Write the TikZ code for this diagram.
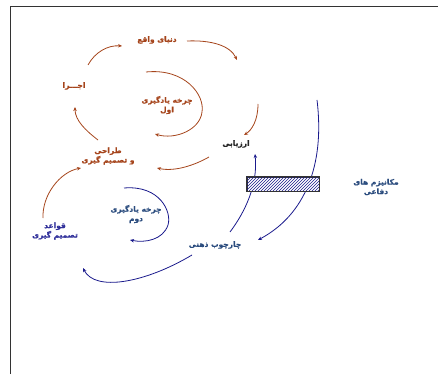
\documentclass[tikz,border=0pt]{standalone}
\usepackage{fontspec}
\newfontfamily\arabicfont[Script=Arabic,BoldFont={DejaVu Sans Bold},BoldFeatures={FakeBold=0.6}]{DejaVu Sans}
\TeXXeTstate=1
\usetikzlibrary{arrows.meta,patterns}
\definecolor{brn}{HTML}{A5441B}
\definecolor{nvy}{HTML}{1A1A8C}
\definecolor{tealb}{HTML}{2B4C7E}
\definecolor{purb}{HTML}{30309A}
\begin{document}
\begin{tikzpicture}[x=1pt,y=-1pt,
  lbl/.style={font=\arabicfont\bfseries\fontsize{7.5}{9.5}\selectfont,align=center,inner sep=0pt},
  barr/.style={brn,line width=0.8pt,-{Stealth[length=4pt,width=3.5pt]}},
  narr/.style={nvy,line width=0.8pt,-{Stealth[length=4pt,width=3.5pt]}}]
\useasboundingbox (0,0) rectangle (438,374);
\draw[line width=0.8pt,black!80] (10,374) -- (10,6) -- (438,6);
% text nodes
\node[lbl,text=brn] (world) at (157,40) {\beginR دنیای واقع\endR};
\node[lbl,text=brn] (ejra) at (74,86) {\beginR اجـــرا\endR};
\node[lbl,text=brn] (c1) at (167,105) {\beginR چرخه یادگیری\endR\\\beginR اول\endR};
\node[lbl,text=black!85] (eval) at (236,144) {\beginR ارزیابی\endR};
\node[lbl,text=brn] (design) at (108,156) {\beginR طراحی\endR\\\beginR و تصمیم گیری\endR};
\node[lbl,text=purb] (rules) at (55,231) {\beginR قواعد\endR\\\beginR تصمیم گیری\endR};
\node[lbl,text=tealb] (c2) at (136,214) {\beginR چرخه یادگیری\endR\\\beginR دوم\endR};
\node[lbl,text=tealb] (frame) at (215,245) {\beginR چارچوب ذهنی\endR};
\node[lbl,text=tealb] (defm) at (376,187) {\beginR مکانیزم های\endR\\\beginR دفاعی\endR};
% coordinates
\coordinate (p1s) at (88,65); \coordinate (p1e) at (122,46);
\coordinate (p2s) at (187,41); \coordinate (p2e) at (237,60);
\coordinate (p3s) at (98,140); \coordinate (p3e) at (75,107);
\coordinate (p4s) at (146,72); \coordinate (p4m) at (202,112); \coordinate (p4e) at (155,134);
\coordinate (p5s) at (258,104); \coordinate (p5e) at (244,135);
\coordinate (p6s) at (209,157); \coordinate (p6e) at (157,168);
\coordinate (p7s) at (43,218); \coordinate (p7e) at (81,168);
\coordinate (p8s) at (124,188); \coordinate (p8m) at (168,225); \coordinate (p8e) at (130,240);
\coordinate (p9s) at (230,232); \coordinate (p9e) at (255,154);
\coordinate (p10s) at (317,100); \coordinate (p10e) at (258,240);
\coordinate (p11s) at (192,255); \coordinate (p11e) at (83,268);
% brown arrows
\draw[barr] (p1s) .. controls (95,52) and (108,45) .. (p1e);
\draw[barr] (p2s) .. controls (210,40) and (230,45) .. (p2e);
\draw[barr] (p3s) .. controls (85,130) and (75,120) .. (p3e);
\draw[barr] (p4s) .. controls (185,68) and (205,95) .. (p4m) .. controls (200,130) and (175,140) .. (p4e);
\draw[barr] (p5s) .. controls (258,120) and (252,130) .. (p5e);
\draw[barr] (p6s) .. controls (195,165) and (175,172) .. (p6e);
\draw[barr] (p7s) .. controls (42,195) and (60,172) .. (p7e);
% navy arrows
\draw[narr] (p8s) .. controls (160,185) and (172,212) .. (p8m) .. controls (163,240) and (145,243) .. (p8e);
\draw[narr] (p9s) .. controls (245,212) and (258,185) .. (p9e);
\draw[narr] (p10s) .. controls (325,165) and (305,215) .. (p10e);
\draw[narr] (p11s) .. controls (145,283) and (95,292) .. (p11e);
% hatched bar
\node[draw=black!80,line width=0.8pt,fill=white,minimum width=72pt,minimum height=14pt,inner sep=0pt] (bar) at (283,184) {};
\fill[pattern=north east lines,pattern color=nvy] (bar.south west) rectangle (bar.north east);
\draw[black!80,line width=0.8pt] (bar.south west) rectangle (bar.north east);
\end{tikzpicture}
\end{document}
